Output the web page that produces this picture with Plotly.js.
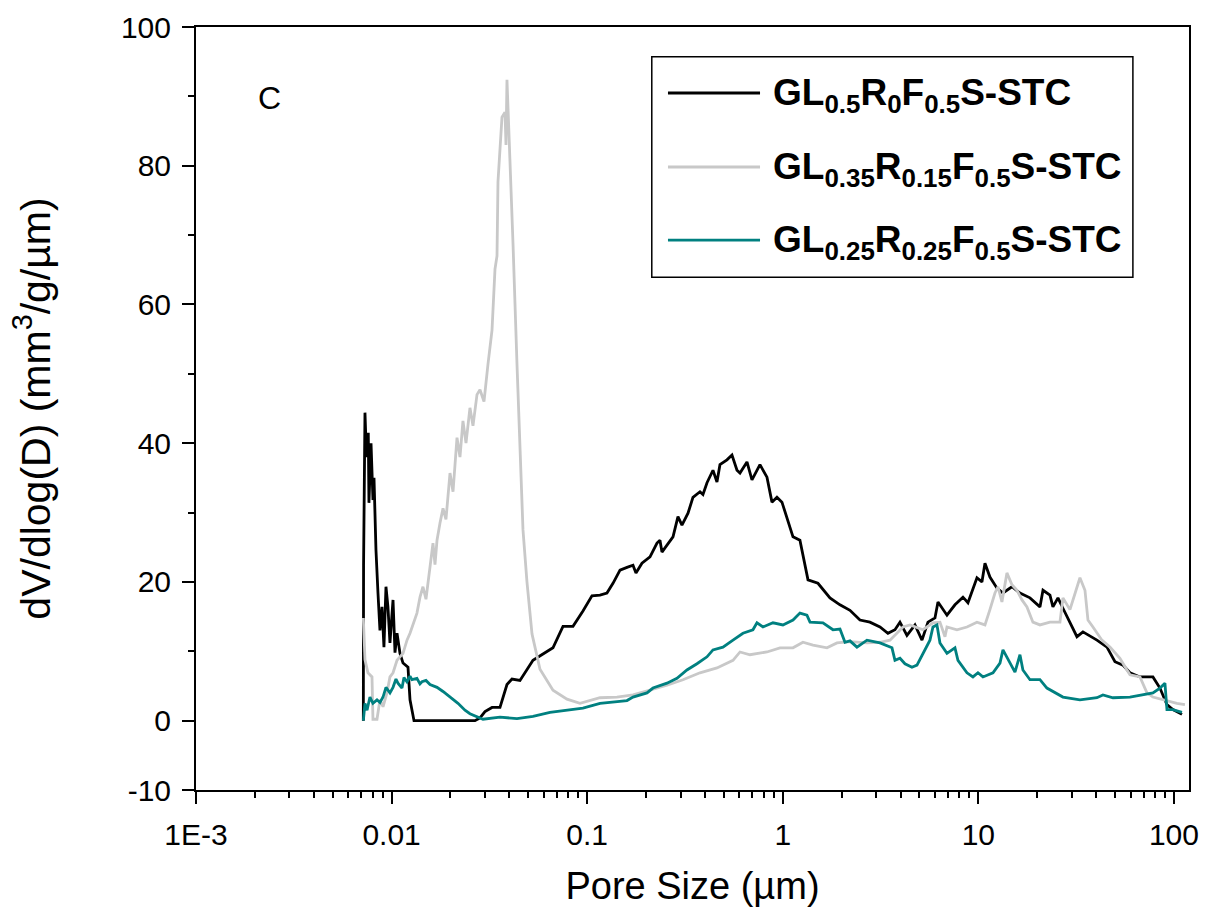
<!DOCTYPE html>
<html><head><meta charset="utf-8">
<script src="https://cdn.plot.ly/plotly-3.0.1.min.js"></script>
<style>html,body{margin:0;padding:0;background:#fff}#chart{width:1213px;height:919px}</style>
</head><body><div id="chart"></div>
<script>
// ---- data ----
const seriesNames = [
  'GL<sub>0.5</sub>R<sub>0</sub>F<sub>0.5</sub>S-STC',
  'GL<sub>0.35</sub>R<sub>0.15</sub>F<sub>0.5</sub>S-STC',
  'GL<sub>0.25</sub>R<sub>0.25</sub>F<sub>0.5</sub>S-STC'
];
const seriesColors = ['#000000', '#c8c8c8', '#008080'];

const poreSizeA = [0.00717,0.00719,0.00731,0.00744,0.0076,0.00766,0.00785,0.00803,0.00813,0.00832,0.00852,0.00872,0.00893,0.00914,0.00936,0.00958,0.00981,0.01017,0.01041,0.01066,0.01104,0.01144,0.01213,0.01242,0.01302,0.02669,0.02831,0.03003,0.03262,0.03583,0.0389,0.04126,0.04533,0.05284,0.05943,0.06686,0.07522,0.08462,0.09517,0.1058,0.1163,0.1262,0.1355,0.1472,0.1598,0.1715,0.1776,0.1906,0.2095,0.2275,0.2356,0.2412,0.2559,0.2747,0.2912,0.3052,0.3277,0.3474,0.3773,0.3908,0.4099,0.4397,0.4609,0.4774,0.5185,0.55,0.5834,0.6043,0.6561,0.6959,0.7646,0.8303,0.8806,0.9339,0.9906,1.063,1.128,1.224,1.346,1.513,1.743,1.961,2.206,2.481,2.791,3.14,3.45,3.747,3.974,4.315,4.742,5.149,5.526,6.001,6.217,6.911,7.593,8.343,8.847,9.836,10.43,10.81,11.46,12.45,13.36,14.85,16.32,18.36,20.65,21.4,23.23,24.06,25.53,27.07,29.4,31.92,34.26,40.4,45.45,49.94,54.87,59.59,67.03,78.09,84.81,92.1,98.8,109.9];
const dvA = [0,22.4,44.4,38,41.5,31.4,40,31.8,35,24.6,18.4,13,16.4,10.6,19.3,16.4,11.2,17.4,9.8,12.6,9.7,8.3,7.7,3,0,0,0.4,1.3,1.9,1.9,5.2,6,5.8,8.7,9.6,10.5,13.6,13.6,15.8,18,18.1,18.4,19.8,21.7,22.1,22.4,21.3,22.7,23.6,25.6,26,24.3,25.3,26.5,29.4,28.2,29.9,32.2,33,32.6,34.3,36.1,34.4,36.9,37.6,38.3,36.1,35.7,37.3,34.7,36.9,35.1,31.5,32.2,31.5,28.9,26.5,26,20.3,19.8,17.7,16.7,15.9,14.5,14.2,13.5,12.6,13.1,14.2,12.3,13.8,11.6,14.2,14.8,17.1,15.2,16.7,17.8,17,20.6,20,22.7,20.7,19.1,18.4,19.3,18.4,17.7,16.4,18.8,18.1,16.4,17.7,16.2,14.1,12.1,12.8,11.6,10.6,8.5,8,6.9,6.3,6.3,4.7,2.3,1.6,0.9];

const poreSizeB = [0.00717,0.00731,0.00757,0.00794,0.00803,0.00842,0.00872,0.00904,0.00947,0.00981,0.01017,0.01066,0.01144,0.01199,0.01242,0.01286,0.01348,0.01397,0.01447,0.01499,0.01572,0.01628,0.01667,0.01707,0.01768,0.01832,0.01897,0.01989,0.02061,0.0216,0.02237,0.02317,0.02401,0.02516,0.02607,0.02733,0.02831,0.02968,0.03111,0.03262,0.03378,0.03459,0.03499,0.03668,0.038,0.03845,0.0389,0.03983,0.0403,0.04175,0.04377,0.04533,0.04697,0.04922,0.05223,0.05738,0.06686,0.07884,0.09189,0.1163,0.142,0.1715,0.2095,0.2559,0.3089,0.3773,0.4609,0.5566,0.6043,0.6797,0.8303,0.9676,1.128,1.268,1.427,1.683,1.893,2.206,2.695,3.14,3.533,3.836,4.117,4.471,4.855,5.21,5.861,6.364,6.75,6.911,7.773,8.745,9.836,10.81,11.46,12.16,12.6,13.2,14.0,14.85,15.75,16.71,17.72,19.01,20.65,23.23,26.13,27.07,29.4,31.18,33.07,35.08,36.34,38.54,42.84,47.09,52.97,57.51,59.59,67.03,72.78,78.09,87.87,103.6,113.8];
const dvB = [14.8,8.8,6.9,6.3,0.2,0.2,3,2,4,6.3,6.9,8.7,9.7,11.6,12.6,13.8,15.5,17.8,19.3,17.5,22.2,25.6,22.5,26,28.5,30.6,29,35.7,33,40.8,38,43.2,40,45.1,42.5,47,47.7,46,51.4,56.3,65.1,67,77.7,87,87.7,83,92.4,85,82.7,68.9,51.4,38.9,27.5,20,12.5,7.4,4.4,3.1,2.5,3.3,3.4,3.7,4.4,5.1,5.9,6.9,7.6,8.7,9.9,9.5,9.9,10.5,10.5,11.3,10.9,10.5,11.2,11.4,11.2,11.3,11.6,12.6,13.5,13.8,13.4,13.1,14.1,14.2,12.1,13.5,13.1,13.5,14.2,13.8,16,18.4,19.3,17.1,21.3,19.6,18.8,17.4,16.4,14.2,13.8,14.2,14.2,17.7,16,18.4,20.6,18.8,14.5,13.5,11.6,10.6,9,7.3,6.6,6.3,4,3.4,3,2.5,2.3];

const poreSizeC = [0.00717,0.00731,0.00749,0.00775,0.00803,0.00842,0.00872,0.00904,0.00936,0.00981,0.01017,0.01053,0.01078,0.0113,0.01157,0.01199,0.01242,0.01271,0.01348,0.01397,0.0143,0.01499,0.01572,0.01707,0.01832,0.01989,0.02185,0.02373,0.02516,0.02933,0.03583,0.04377,0.05284,0.06453,0.07884,0.09517,0.1163,0.142,0.1598,0.1715,0.2022,0.217,0.2559,0.2878,0.3237,0.3642,0.4099,0.4397,0.4946,0.5566,0.6258,0.704,0.738,0.7922,0.8912,1.002,1.128,1.224,1.329,1.378,1.605,1.806,1.961,2.08,2.206,2.395,2.695,3.14,3.617,3.747,3.974,4.215,4.576,4.855,5.21,5.656,5.861,6.144,6.364,6.911,7.593,7.866,8.745,9.384,9.953,10.56,11.88,12.9,13.36,14.5,15.39,16.32,16.9,18.36,20.65,22.42,27.07,33.07,40.4,43.35,48.78,59.59,67.03,78.09,84.81,89.95,92.1,98.8,109.9];
const dvC = [0,2.5,1.5,3.4,2.5,3,2.6,3.4,4.8,4,4.8,6,5.4,4.7,6.2,5.6,6.4,5.9,6.1,5.3,5.6,5.8,5.2,4.8,4.2,3.4,2.5,1.5,1,0.2,0.5,0.3,0.6,1.2,1.5,1.8,2.5,2.8,2.9,3.4,4,4.7,5.4,6.1,7.3,8.2,9.2,10.2,10.6,11.6,12.6,13.1,14.1,13.5,14.1,13.8,14.5,15.5,15.2,14.2,14.1,13.1,13.2,11.3,11.5,10.6,11.6,11.2,10.5,8.7,9,8.2,7.7,8,9.7,11.6,13.5,13.8,11.2,9.7,10.5,8.7,6.9,6.3,6.9,6.3,6.9,8.3,10.2,8.3,7,9.5,7.3,5.9,5.9,4.7,3.4,3,3.3,3.7,3.3,3.4,3.7,4,4.7,5.4,1.6,1.6,1.2];

const xTickVals = [0.001, 0.01, 0.1, 1, 10, 100];
const xTickText = ['1E-3', '0.01', '0.1', '1', '10', '100'];
const yTickVals = [-10, 0, 20, 40, 60, 80, 100];
const yTickText = ['-10', '0', '20', '40', '60', '80', '100'];
const panelLabel = 'C';
const xTitle = 'Pore Size (µm)';
const yTitle = 'dV/dlog(D) (mm<sup>3</sup>/g/µm)';

// ---- chart ----
const xs = [poreSizeA, poreSizeB, poreSizeC];
const ys = [dvA, dvB, dvC];
const traces = xs.map((x, i) => ({
  type: 'scatter', mode: 'lines', x: x, y: ys[i], name: seriesNames[i],
  line: {color: seriesColors[i], width: 2.8}, showlegend: false
}));

const FONT = '"Liberation Sans", Arial, sans-serif';

// legend (drawn in paper coordinates)
const legBox = {x0: 0.459, x1: 0.9435, y0: 0.672, y1: 0.961};
const legRows = [0.9135, 0.8165, 0.7208];
const shapes = [{type: 'rect', xref: 'paper', yref: 'paper', x0: legBox.x0, x1: legBox.x1, y0: legBox.y0, y1: legBox.y1,
  line: {color: '#000', width: 1.5}, fillcolor: 'rgba(0,0,0,0)'}];
const annotations = [{xref: 'paper', yref: 'paper', x: 0.0745, y: 0.907, text: panelLabel, showarrow: false,
  xanchor: 'center', yanchor: 'middle', font: {family: FONT, size: 32, color: '#000'}}];
legRows.forEach((yy, i) => {
  shapes.push({type: 'line', xref: 'paper', yref: 'paper', x0: 0.4753, x1: 0.568, y0: yy, y1: yy,
    line: {color: seriesColors[i], width: 2.8}});
  annotations.push({xref: 'paper', yref: 'paper', x: 0.5795, y: yy, text: '<b>' + seriesNames[i] + '</b>',
    showarrow: false, xanchor: 'left', yanchor: 'middle', yshift: -2,
    font: {family: FONT, size: 37, color: '#000'}});
});

const axisCommon = {
  showline: true, linewidth: 2, linecolor: '#000', mirror: true,
  ticks: 'outside', ticklen: 12, tickwidth: 2, tickcolor: '#000',
  showgrid: false, zeroline: false,
  tickfont: {family: FONT, size: 30, color: '#000'}
};

const layout = {
  width: 1213, height: 919,
  margin: {l: 196, r: 24, t: 27, b: 129},
  paper_bgcolor: '#fff', plot_bgcolor: '#fff',
  font: {family: FONT, color: '#000'},
  showlegend: false,
  xaxis: Object.assign({}, axisCommon, {
    type: 'log', range: [-3, 2.077],
    tickmode: 'array', tickvals: xTickVals, ticktext: xTickText,
    ticklabelstandoff: 5,
    minor: {ticks: 'outside', ticklen: 6, tickwidth: 2, tickcolor: '#000', dtick: 'D1', showgrid: false},
    title: {text: xTitle, font: {family: FONT, size: 38, color: '#000'}, standoff: 22}
  }),
  yaxis: Object.assign({}, axisCommon, {
    range: [-10, 100],
    tickmode: 'array', tickvals: yTickVals, ticktext: yTickText,
    ticklabelstandoff: 5,
    minor: {ticks: 'outside', ticklen: 6, tickwidth: 2, tickcolor: '#000', dtick: 10, tick0: 0, showgrid: false},
    title: {text: yTitle, font: {family: FONT, size: 41, color: '#000'}, standoff: 58}
  }),
  shapes: shapes,
  annotations: annotations
};

Plotly.newPlot('chart', traces, layout, {displayModeBar: false, staticPlot: true});
</script>
</body></html>
